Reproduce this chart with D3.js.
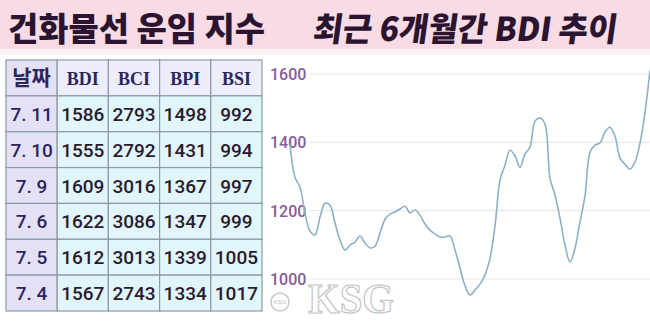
<!DOCTYPE html>
<html>
<head>
<meta charset="utf-8">
<script src="https://cdn.jsdelivr.net/npm/d3@7"></script>
<style>
  html, body { margin: 0; padding: 0; background: #fff; }
  svg { display: block; }
</style>
</head>
<body>
<script>
// Table data (dry bulk freight indices)
const dates = ["7. 11", "7. 10", "7. 9", "7. 6", "7. 5", "7. 4"];
const columns = ["BDI", "BCI", "BPI", "BSI"];
const bdi = [1586, 1555, 1609, 1622, 1612, 1567];
const bci = [2793, 2792, 3016, 3086, 3013, 2743];
const bpi = [1498, 1431, 1367, 1347, 1339, 1334];
const bsi = [992, 994, 997, 999, 1005, 1017];

// BDI over the last 6 months
const bdiTrend = [
  1392, 1298, 1269, 1193, 1140, 1129, 1181, 1222, 1216, 1164,
  1114, 1085, 1099, 1108, 1126, 1105, 1091, 1096, 1135, 1175,
  1190, 1196, 1205, 1213, 1193, 1202, 1187, 1161, 1143, 1132,
  1123, 1123, 1126, 1085, 1032, 980, 953, 968, 985, 1012,
  1061, 1155, 1289, 1333, 1377, 1360, 1327, 1366, 1386, 1462,
  1471, 1453, 1295, 1246, 1178, 1099, 1050, 1090, 1167, 1243,
  1371, 1392, 1398, 1430, 1444, 1418, 1354, 1336, 1322, 1342,
  1398, 1488, 1611
];
const yTicks = [1000, 1200, 1400, 1600];

const width = 650, height = 322;

const svg = d3.select("body").append("svg")
    .attr("width", width)
    .attr("height", height);

// Title band
svg.append("rect").attr("x", 0).attr("y", 0).attr("width", width).attr("height", 49)
    .attr("fill", "#f8dbe4");
svg.append("rect").attr("x", 0).attr("y", 49).attr("width", width).attr("height", 6)
    .attr("fill", "#fcf1f4");

svg.append("text")
    .attr("x", 8).attr("y", 41)
    .attr("textLength", 257).attr("lengthAdjust", "spacingAndGlyphs")
    .style("font-family", "'Noto Sans CJK KR'")
    .style("font-weight", 900)
    .style("font-size", "33px")
    .attr("fill", "#2b1430")
    .text("건화물선 운임 지수");

svg.append("text")
    .attr("x", 312).attr("y", 41)
    .attr("transform", "skewX(-8) translate(5.8,0)")
    .attr("textLength", 304).attr("lengthAdjust", "spacingAndGlyphs")
    .style("font-family", "'Noto Sans CJK KR'")
    .style("font-weight", 900)
    .style("font-size", "33px")
    .attr("fill", "#2b1430")
    .text("최근 6개월간 BDI 추이");

// ---- Table ----
const colX = d3.scaleBand().domain(["date", ...columns]).range([6, 262]);
const rowY = d3.scaleBand().domain(["head", ...dates]).range([60, 311]);
const values = { BDI: bdi, BCI: bci, BPI: bpi, BSI: bsi };

const cells = [];
cells.push({ col: "date", row: "head", text: "날짜", kind: "headDate" });
columns.forEach(c => cells.push({ col: c, row: "head", text: c, kind: "head" }));
dates.forEach((d, i) => {
    cells.push({ col: "date", row: d, text: d, kind: "date" });
    columns.forEach(c => cells.push({ col: c, row: d, text: values[c][i], kind: "num" }));
});

const fillFor = k => k === "num" ? "#e0f6fb" : k === "head" ? "#eeedfa" : "#e4e1f7";

const table = svg.append("g").attr("class", "table");
table.selectAll("rect")
    .data(cells)
    .enter()
    .append("rect")
    .attr("x", d => colX(d.col))
    .attr("y", d => rowY(d.row))
    .attr("width", colX.bandwidth())
    .attr("height", rowY.bandwidth())
    .attr("fill", d => fillFor(d.kind))
    .attr("stroke", "#8c99a6")
    .attr("stroke-width", 1.2);

table.selectAll("text")
    .data(cells)
    .enter()
    .append("text")
    .attr("x", d => colX(d.col) + colX.bandwidth() / 2)
    .attr("y", d => rowY(d.row) + rowY.bandwidth() / 2 + 7)
    .attr("text-anchor", "middle")
    .style("font-family", d => d.kind === "head" ? "'Liberation Serif'" : d.kind === "headDate" ? "'Noto Sans CJK KR'" : "Roboto")
    .style("font-weight", d => d.kind === "head" || d.kind === "headDate" ? 700 : 500)
    .style("font-size", d => d.kind === "head" ? "18px" : d.kind === "headDate" ? "21px" : "19px")
    .attr("fill", d => d.kind === "num" ? "#2a1a2e" : "#2b2560")
    .text(d => d.text);

// ---- Line chart ----
const x = d3.scaleLinear().domain([0, bdiTrend.length - 1]).range([290, 650]);
const y = d3.scaleLinear().domain([1000, 1600]).range([279, 74]);

const grid = svg.append("g").attr("class", "grid");
grid.selectAll("line")
    .data(yTicks)
    .enter()
    .append("line")
    .attr("x1", 309).attr("x2", 650)
    .attr("y1", d => y(d)).attr("y2", d => y(d))
    .attr("stroke", "#e9e9ec")
    .attr("stroke-width", 1.2);

svg.append("g").attr("class", "y-labels")
    .selectAll("text")
    .data(yTicks)
    .enter()
    .append("text")
    .attr("x", 270)
    .attr("y", d => y(d) + 6)
    .style("font-family", "Roboto")
    .style("font-weight", 500)
    .style("font-size", "16px")
    .attr("fill", "#8a5a98")
    .text(d => d);

const line = d3.line()
    .x((d, i) => x(i))
    .y(d => y(d))
    .curve(d3.curveCatmullRom.alpha(0.5));

svg.append("path")
    .datum(bdiTrend)
    .attr("d", line)
    .attr("fill", "none")
    .attr("stroke", "#8eb0c6")
    .attr("stroke-width", 1.6);

// ---- KSG watermark ----
const wm = svg.append("g").attr("class", "watermark");
wm.append("circle").attr("cx", 280).attr("cy", 302).attr("r", 9)
    .attr("fill", "#fff").attr("stroke", "#c9c9c9").attr("stroke-width", 1.5);
wm.append("text")
    .attr("x", 280).attr("y", 304)
    .attr("text-anchor", "middle")
    .style("font-family", "'Liberation Sans'")
    .style("font-size", "6px")
    .attr("fill", "#bdbdbd")
    .text("KSG");
wm.append("text")
    .attr("x", 308).attr("y", 313)
    .attr("textLength", 86).attr("lengthAdjust", "spacingAndGlyphs")
    .style("font-family", "'Liberation Serif'")
    .style("font-weight", 700)
    .style("font-size", "42px")
    .attr("fill", "#ffffff")
    .attr("stroke", "#c4c4c4")
    .attr("stroke-width", 1.2)
    .text("KSG");
</script>
</body>
</html>
